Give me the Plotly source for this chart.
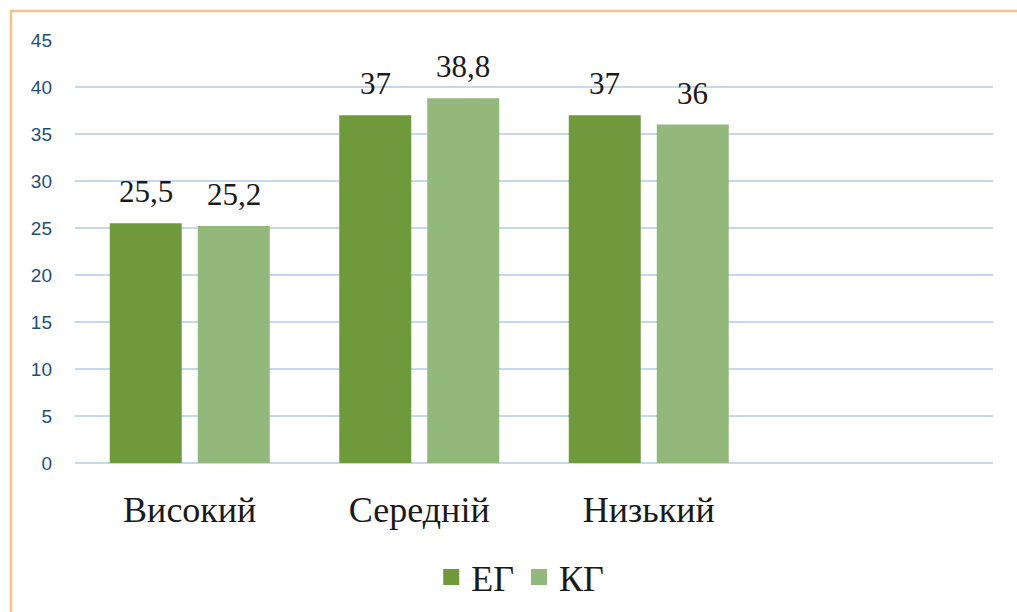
import plotly.graph_objects as go

categories = ["Високий", "Середній", "Низький", " "]
series_names = ["ЕГ", "КГ"]
eg_values = [25.5, 37, 37, None]
kg_values = [25.2, 38.8, 36, None]
y_ticks = [0, 5, 10, 15, 20, 25, 30, 35, 40, 45]

colors = ["#6f9a3c", "#93b87b"]
serif = "Liberation Serif, Times New Roman, serif"

fig = go.Figure()
for name, vals, col in zip(series_names, [eg_values, kg_values], colors):
    fig.add_trace(go.Bar(x=categories, y=vals, name=name, marker_color=col,
                         marker_line_width=0, showlegend=False))
    fig.add_trace(go.Scatter(x=[None], y=[None], mode="markers", name=name,
                             marker=dict(symbol="square", size=19, color=col)))

def fmt(v):
    return ("%g" % v).replace(".", ",")

for vals, shift in [(eg_values, -44), (kg_values, 44)]:
    for c, v in zip(categories, vals):
        if v is None:
            continue
        fig.add_annotation(x=c, y=v, text=fmt(v), showarrow=False, xshift=shift,
                           yanchor="bottom", yshift=12,
                           font=dict(family=serif, size=31, color="#1a1a1a"))

fig.add_shape(type="rect", xref="paper", yref="paper",
              x0=-64/918, x1=1.06, y0=-0.5, y1=1 + 29/423,
              line=dict(color="#f8bf8e", width=2.5), fillcolor="rgba(0,0,0,0)", layer="below")

fig.update_layout(
    width=1017, height=612,
    margin=dict(l=75, r=24, t=40, b=149, autoexpand=False),
    paper_bgcolor="white", plot_bgcolor="white",
    barmode="group", bargap=0.233, bargroupgap=0.182,
    showlegend=True,
    legend=dict(orientation="h", x=0.485, xanchor="center", y=-0.27, yanchor="middle",
                font=dict(family=serif, size=36, color="#1a1a1a"), itemwidth=30,
                traceorder="normal"),
    xaxis=dict(type="category", categoryorder="array", categoryarray=categories,
               tickfont=dict(family=serif, size=36, color="#1a1a1a"),
               showgrid=False, showline=False, ticks="", ticklabelstandoff=22,
               automargin=False),
    yaxis=dict(range=[0, 45], tickvals=y_ticks, showgrid=True,
               gridcolor="#c6d9ec", gridwidth=1.6, zeroline=True,
               zerolinecolor="#c6d9ec", zerolinewidth=1.6,
               tickfont=dict(family="Liberation Sans, Arial, sans-serif", size=19, color="#1f4e79"),
               ticklabelstandoff=22, showline=False, automargin=False),
)

fig.write_html("out.html", config={"displayModeBar": False},
               post_script="document.body.style.margin='0';")
